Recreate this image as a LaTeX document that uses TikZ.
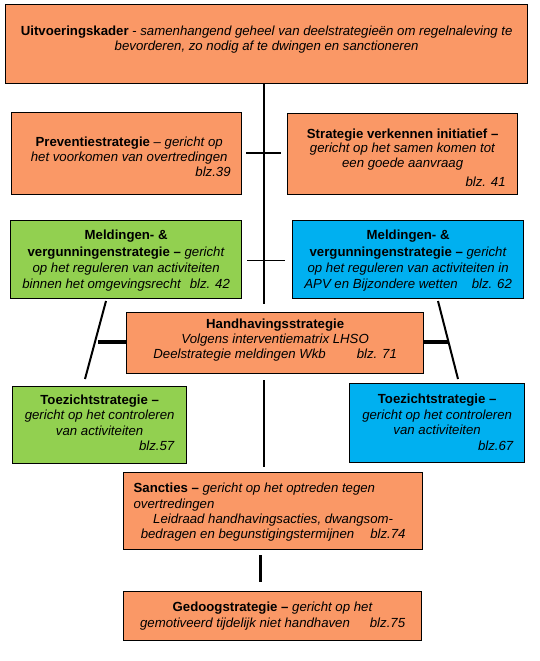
\documentclass[tikz,border=0pt]{standalone}
\usepackage{fontspec}
\setmainfont{Liberation Sans}
\definecolor{orng}{RGB}{250,152,102}
\definecolor{grn}{RGB}{146,208,80}
\definecolor{blu}{RGB}{0,176,240}
\newcommand\boxtxt[7]{\parbox[c][#2pt][t]{#1pt}{\centering\baselineskip=#4pt\leftskip=#5pt plus 1fil\rightskip=#6pt plus 1fil\rule{0pt}{#3pt}#7}}
\tikzset{
  bx/.style={draw=black, line width=1.3pt, inner sep=0pt, anchor=north west, font=\fontsize{13.2}{15}\selectfont},
  ln/.style={draw=black, line width=2pt},
  lnthin/.style={draw=black, line width=1pt},
  lnthick/.style={draw=black, line width=3.5pt}
}
\begin{document}
\begin{tikzpicture}[x=1pt,y=-1pt]
\useasboundingbox[fill=white] (0,0) rectangle (540,661);

\node[bx, fill=orng] (top) at (5,4) {\boxtxt{522}{79}{30.5}{15}{10}{10}{\textbf{Uitvoeringskader} - \textit{samenhangend geheel van deelstrategieën om regelnaleving te}\\ \textit{bevorderen, zo nodig af te dwingen en sanctioneren}}};

\node[bx, fill=orng] (prev) at (11,112) {\boxtxt{230}{82}{34}{15}{16}{11}{\textbf{Preventiestrategie} – \textit{gericht op}\\ \textit{het voorkomen van overtredingen}\\ \hfill\textit{blz.39}}};

\node[bx, fill=orng] (strat) at (287,113) {\boxtxt{230}{81}{24.5}{14.7}{12}{12}{\textbf{Strategie verkennen initiatief –}\\ \textit{gericht op het samen komen tot}\\ \textit{een goede aanvraag}\\[4pt] \hfill\textit{blz. 41}}};

\node[bx, fill=grn] (meldg) at (10,220) {\boxtxt{231}{78}{19.3}{16.2}{6}{6}{\textbf{Meldingen- \&}\\ \textbf{vergunningenstrategie –} \textit{gericht}\\ \textit{op het reguleren van activiteiten}\\ \textit{binnen het omgevingsrecht\hspace{9pt}blz. 42}}};

\node[bx, fill=blu] (meldb) at (292,220) {\boxtxt{231}{78}{19.3}{16.2}{6}{6}{\textbf{Meldingen- \&}\\ \textbf{vergunningenstrategie –} \textit{gericht}\\ \textit{op het reguleren van activiteiten in}\\ \textit{APV en Bijzondere wetten\hspace{14pt}blz. 62}}};

\node[bx, fill=orng] (handh) at (126,312) {\boxtxt{297}{61}{15.8}{15}{10}{10}{\textbf{Handhavingsstrategie}\\ \textit{Volgens interventiematrix LHSO}\\ \textit{Deelstrategie meldingen Wkb\hspace{31pt}blz. 71}}};

\node[bx, fill=grn] (toezg) at (12,386) {\boxtxt{174}{77}{17.8}{15.5}{12}{12}{\textbf{Toezichtstrategie –}\\ \textit{gericht op het controleren}\\ \textit{van activiteiten}\\ \hfill\textit{blz.57}}};

\node[bx, fill=blu] (toezb) at (349,383) {\boxtxt{175}{79}{19.8}{15.6}{11}{11}{\textbf{Toezichtstrategie –}\\ \textit{gericht op het controleren}\\ \textit{van activiteiten}\\ \hfill\textit{blz.67}}};

\node[bx, fill=orng] (sanct) at (123,472) {\boxtxt{299}{77}{20.2}{15.2}{10}{10}{\textbf{Sancties –} \textit{gericht op het optreden tegen}\hfill\mbox{}\\ \textit{overtredingen}\hfill\mbox{}\\ \textit{Leidraad handhavingsacties, dwangsom-}\\ \textit{bedragen en begunstigingstermijnen\hspace{16pt}blz.74}}};

\node[bx, fill=orng] (gedoog) at (123,591) {\boxtxt{298}{49}{20.2}{16}{10}{10}{\textbf{Gedoogstrategie –} \textit{gericht op het}\\ \textit{gemotiveerd tijdelijk niet handhaven\hspace{20pt}blz.75}}};

% connector points
\coordinate (v1) at (264,304);
\coordinate (h2a) at (246,153);
\coordinate (h2b) at (281,153);
\coordinate (h3a) at (247,260);
\coordinate (h3b) at (285,260);
\coordinate (dla) at (106,301);
\coordinate (dlb) at (85,379);
\coordinate (tla) at (98,342);
\coordinate (dra) at (438,301);
\coordinate (drb) at (458,379);
\coordinate (trb) at (448,342);
\coordinate (v2a) at (264,380);
\coordinate (v2b) at (264,467);
\coordinate (v3a) at (260,555);
\coordinate (v3b) at (260,582);

\draw[ln] (top.south -| v1) -- (v1);
\draw[line width=2.5pt] (h2a) -- (h2b);
\draw[lnthin] (h3a) -- (h3b);
\draw[ln] (dla) -- (dlb);
\draw[lnthick] (tla) -- (handh.west |- tla);
\draw[ln] (dra) -- (drb);
\draw[lnthick] (handh.east |- trb) -- (trb);
\draw[ln] (v2a) -- (v2b);
\draw[line width=3pt] (v3a) -- (v3b);
\end{tikzpicture}
\end{document}
